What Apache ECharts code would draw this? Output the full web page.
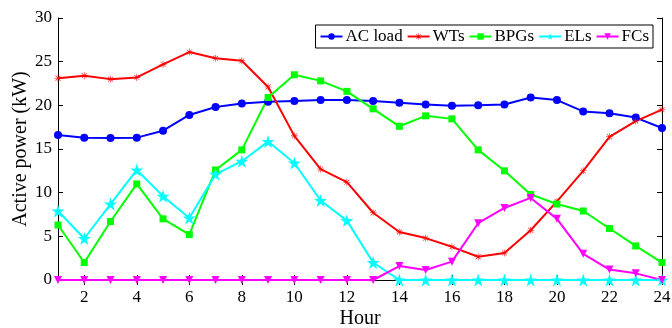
<!DOCTYPE html>
<html>
<head>
<meta charset="utf-8">
<script src="https://cdn.jsdelivr.net/npm/echarts@6/dist/echarts.min.js"></script>
<style>
html,body{margin:0;padding:0;background:#fff;}
#c{width:672px;height:328px;}
</style>
</head>
<body>
<div id="c"></div>
<script>
const hours = [1,2,3,4,5,6,7,8,9,10,11,12,13,14,15,16,17,18,19,20,21,22,23,24];
const acLoad = [16.6,16.3,16.25,16.3,17.1,18.9,19.8,20.2,20.4,20.5,20.6,20.6,20.5,20.3,20.1,19.95,20.0,20.1,20.9,20.6,19.3,19.1,18.6,17.4];
const wts = [23.1,23.4,23.0,23.2,24.7,26.1,25.4,25.1,22.1,16.5,12.7,11.2,7.7,5.5,4.8,3.8,2.66,3.1,5.7,9.0,12.5,16.4,18.2,19.5];
const bpgs = [6.3,2.0,6.7,11.0,7.0,5.2,12.6,14.9,20.9,23.5,22.8,21.6,19.6,17.6,18.8,18.45,14.9,12.5,9.8,8.7,7.9,5.9,3.9,2.0];
const els = [7.9,4.75,8.7,12.6,9.6,7.1,12.1,13.6,15.85,13.4,9.1,6.8,2.0,0,0,0,0,0,0,0,0,0,0,0];
const fcs = [0,0,0,0,0,0,0,0,0,0,0,0,0,1.6,1.15,2.1,6.5,8.25,9.4,7.0,3.0,1.2,0.76,0];
const yTicks = {min:0, max:30, step:5};

const FONT = 'Liberation Serif';
const starPath = 'path://M0,-100 L22.5,-30.9 L95.1,-30.9 L36.3,11.8 L58.8,80.9 L0,38.2 L-58.8,80.9 L-36.3,11.8 L-95.1,-30.9 L-22.5,-30.9 Z';
const asteriskPath = 'path://M-8,-100h16v200h-16z M-100,-8h200v16h-200z M-76,-64l12,-12l140,140l-12,12z M76,-64l-12,-12l-140,140l12,12z';

function mk(name, data, color, symbol, size, rotate) {
  return {
    name: name, type: 'line', data: data, xAxisIndex: 0, yAxisIndex: 0,
    symbol: symbol, symbolSize: size, symbolRotate: rotate || 0, showAllSymbol: true,
    lineStyle: {color: color, width: 2},
    itemStyle: {color: color, borderColor: color, borderWidth: 0},
    emphasis: {disabled: true}, animation: false
  };
}

const chart = echarts.init(document.getElementById('c'), null, {renderer: 'canvas'});
const tickInterval = function (i) { return i % 2 === 1; };
chart.setOption({
  backgroundColor: '#fff',
  animation: false,
  textStyle: {fontFamily: FONT},
  grid: {left: 58, right: 10, top: 18, bottom: 48, containLabel: false, outerBoundsMode: 'none'},
  legend: {
    right: 19, top: 25, orient: 'horizontal',
    backgroundColor: '#fff', borderColor: '#000', borderWidth: 1,
    padding: [3, 4, 3, 4], itemGap: 4, itemWidth: 22, itemHeight: 8,
    textStyle: {fontFamily: FONT, fontSize: 17, color: '#000', padding: [0, 0, 0, -2]},
    data: ['AC load', 'WTs', 'BPGs', 'ELs', 'FCs']
  },
  xAxis: [{
    type: 'category', data: hours, boundaryGap: false, position: 'bottom',
    name: 'Hour', nameLocation: 'middle', nameGap: 29, nameMoveOverlap: false,
    nameTextStyle: {fontFamily: FONT, fontSize: 20, color: '#000'},
    axisLine: {lineStyle: {color: '#000', width: 1}},
    axisTick: {inside: true, length: 5, interval: tickInterval, lineStyle: {color: '#000'}},
    axisLabel: {interval: tickInterval, fontFamily: FONT, fontSize: 17, color: '#000', margin: 9},
    splitLine: {show: false}
  }, {
    type: 'category', data: hours, boundaryGap: false, position: 'top',
    axisLine: {lineStyle: {color: '#000', width: 1}},
    axisTick: {inside: true, length: 5, interval: tickInterval, lineStyle: {color: '#000'}},
    axisLabel: {show: false}, splitLine: {show: false}
  }],
  yAxis: [{
    type: 'value', min: yTicks.min, max: yTicks.max, interval: yTicks.step, position: 'left',
    name: 'Active power (kW)', nameLocation: 'middle', nameGap: 27, nameRotate: 90, nameMoveOverlap: false,
    nameTextStyle: {fontFamily: FONT, fontSize: 20, color: '#000'},
    axisLine: {show: true, lineStyle: {color: '#000', width: 1}},
    axisTick: {show: true, inside: true, length: 5, lineStyle: {color: '#000'}},
    axisLabel: {fontFamily: FONT, fontSize: 17, color: '#000', margin: 6},
    splitLine: {show: false}
  }, {
    type: 'value', min: yTicks.min, max: yTicks.max, interval: yTicks.step, position: 'right',
    axisLine: {show: true, lineStyle: {color: '#000', width: 1}},
    axisTick: {show: true, inside: true, length: 5, lineStyle: {color: '#000'}},
    axisLabel: {show: false}, splitLine: {show: false}
  }],
  series: [
    mk('AC load', acLoad, '#0000ff', 'circle', 8),
    mk('WTs', wts, '#ff0000', asteriskPath, 7),
    mk('BPGs', bpgs, '#00ff00', 'rect', 7),
    mk('ELs', els, '#00ffff', starPath, 13),
    mk('FCs', fcs, '#ff00ff', 'triangle', 8, 180)
  ]
});
</script>
</body>
</html>
